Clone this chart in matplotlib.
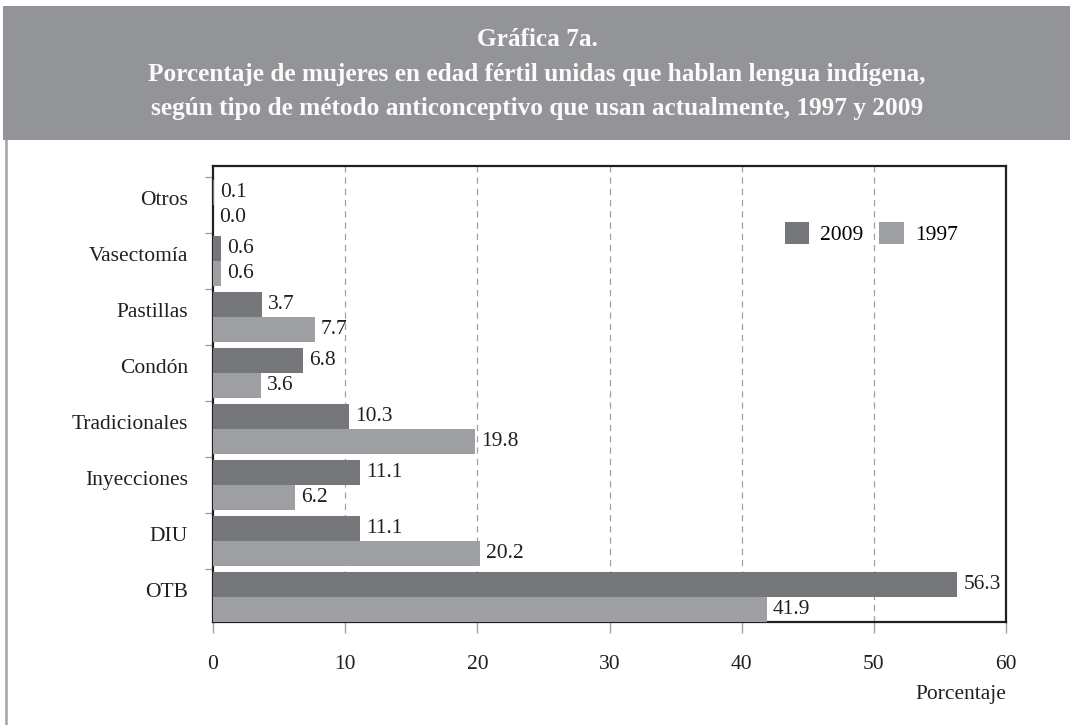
import numpy as np
import matplotlib
matplotlib.use("Agg")
import matplotlib.pyplot as plt
from matplotlib.patches import Rectangle
from matplotlib.lines import Line2D

# data, bottom to top
categories = ["OTB", "DIU", "Inyecciones", "Tradicionales", "Condón",
              "Pastillas", "Vasectomía", "Otros"]
v2009 = [56.3, 11.1, 11.1, 10.3, 6.8, 3.7, 0.6, 0.1]
v1997 = [41.9, 20.2, 6.2, 19.8, 3.6, 7.7, 0.6, 0.0]
series_labels = ["2009", "1997"]
title_lines = ["Gráfica 7a.",
               "Porcentaje de mujeres en edad fértil unidas que hablan lengua indígena,",
               "según tipo de método anticonceptivo que usan actualmente, 1997 y 2009"]
xticks = [0, 10, 20, 30, 40, 50, 60]

dark = "#76777b"
light = "#9e9fa3"
header_col = "#939497"
text_col = "#231f20"
fs = 15.5

plt.rcParams["font.family"] = ["Liberation Serif", "DejaVu Serif"]

fig = plt.figure(figsize=(10.7, 7.25), dpi=100)

# header band and left frame line
fig.patches.append(Rectangle((3 / 1070, 585 / 725), 1 - 3 / 1070, 134 / 725,
                             transform=fig.transFigure, facecolor=header_col,
                             edgecolor="none", zorder=0))
fig.lines.append(Line2D([6 / 1070, 6 / 1070], [0, 585 / 725], transform=fig.transFigure,
                        color="#a3a3a8", lw=1.8))

for txt, ypx in zip(title_lines, [39, 74, 109]):
    fig.text(0.502, 1 - ypx / 725, txt, ha="center", va="center", color="#fbfbfb",
             fontsize=18.2, fontweight="bold")

ax = fig.add_axes([213 / 1070, 103 / 725, 793 / 1070, 456 / 725])

y = np.arange(len(categories))
h = 0.44
b09 = ax.barh(y + 0.5 + h / 2, v2009, height=h, color=dark, label=series_labels[0], zorder=3)
b97 = ax.barh(y + 0.5 - h / 2, v1997, height=h, color=light, label=series_labels[1], zorder=3)

for bars, vals in [(b09, v2009), (b97, v1997)]:
    for bar, v in zip(bars, vals):
        ax.annotate(f"{v:.1f}", (bar.get_width(), bar.get_y() + bar.get_height() / 2),
                    xytext=(4.5, 0), textcoords="offset points", ha="left", va="center",
                    fontsize=fs, color=text_col, zorder=4)

ax.set_xlim(0, 60)
ax.set_ylim(0.054, 8.196)
ax.set_xticks(xticks)
ax.set_xticklabels([str(t) for t in xticks], fontsize=fs, color=text_col)
ax.tick_params(axis="x", length=8, width=1, color="#a0a0a0", pad=16)

# category boundaries as ticks, names as minor ticks slightly above centre
ax.set_yticks(np.arange(1, len(categories) + 1))
ax.set_yticklabels([])
ax.tick_params(axis="y", which="major", length=6, width=1, color="#a0a0a0")
ax.set_yticks(y + 0.62, minor=True)
ax.set_yticklabels(categories, minor=True, fontsize=fs, color=text_col)
ax.tick_params(axis="y", which="minor", length=0, pad=18)

for x in xticks[1:-1]:
    ax.axvline(x, color="#a0a0a0", lw=0.9, ls=(0, (5, 4)), zorder=1)

for s in ax.spines.values():
    s.set_linewidth(1.6)
    s.set_color("#231f20")

ax.set_xlabel("Porcentaje", fontsize=fs, color=text_col, loc="right", labelpad=8)

ax.legend(ncol=2, loc="center", bbox_to_anchor=(0.83, 0.851), frameon=False,
          fontsize=fs, handlelength=1.15, handleheight=1.15, handletextpad=0.5,
          columnspacing=0.75, borderpad=0)

fig.savefig("out.png", dpi=100)
